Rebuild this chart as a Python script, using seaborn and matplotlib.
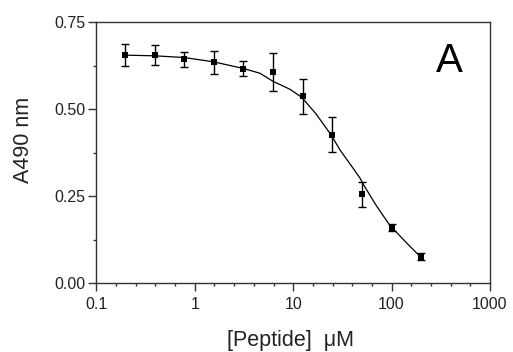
import numpy as np
import pandas as pd
import matplotlib
matplotlib.use("Agg")
import matplotlib.pyplot as plt
import matplotlib.ticker as mticker
import seaborn as sns

# Data points (two-fold dilution series)
conc = [0.195, 0.39, 0.78, 1.56, 3.125, 6.25, 12.5, 25, 50, 100, 200]
absorb = [0.655, 0.655, 0.643, 0.634, 0.616, 0.607, 0.537, 0.427, 0.255, 0.159, 0.076]
err = [0.031, 0.028, 0.021, 0.032, 0.021, 0.055, 0.050, 0.050, 0.035, 0.010, 0.010]

# Fitted curve
curve_x = [0.186, 0.39, 0.78, 1.53, 3.08, 4.59, 6.22, 9.27, 12.2, 17.0, 24.3, 29.9, 33.6, 40.0, 47.8, 50.9, 70.0, 95.8, 140.0, 203.0]
curve_y = [0.655, 0.653, 0.648, 0.636, 0.617, 0.603, 0.580, 0.557, 0.534, 0.487, 0.426, 0.383, 0.363, 0.333, 0.302, 0.287, 0.223, 0.167, 0.118, 0.072]

xticks = [0.1, 1, 10, 100, 1000]
xticklabels = ["0.1", "1", "10", "100", "1000"]
yticks = [0.00, 0.25, 0.50, 0.75]
yticklabels = ["0.00", "0.25", "0.50", "0.75"]

sns.set_style("ticks")
plt.rcParams['font.family'] = ['Liberation Sans', 'DejaVu Sans']

fig = plt.figure(figsize=(5.13, 3.52), dpi=100)
ax = fig.add_axes([0.188, 0.195, 0.767, 0.7425])

df_pts = pd.DataFrame({"conc": conc, "A": absorb})
df_curve = pd.DataFrame({"conc": curve_x, "A": curve_y})

sns.lineplot(data=df_curve, x="conc", y="A", ax=ax, color="black", lw=0.9, sort=False)
ax.errorbar(conc, absorb, yerr=err, fmt="none", ecolor="black", elinewidth=1.0, capsize=3, capthick=1.0)
sns.scatterplot(data=df_pts, x="conc", y="A", ax=ax, marker="s", s=14, color="black", edgecolor="black", linewidth=0, zorder=5)

ax.set_xscale("log")
ax.set_xlim(0.1, 1000)
ax.set_ylim(0, 0.75)
ax.set_xticks(xticks)
ax.set_xticklabels(xticklabels)
minor = [10 ** (k + 0.2 * i) for k in range(-1, 3) for i in range(1, 5)]
ax.xaxis.set_minor_locator(mticker.FixedLocator(minor))
ax.xaxis.set_minor_formatter(mticker.NullFormatter())
ax.set_yticks(yticks)
ax.set_yticklabels(yticklabels)
ax.set_yticks([0.125, 0.375, 0.625], minor=True)

for s in ax.spines.values():
    s.set_color("#333333")
    s.set_linewidth(1.0)
ax.tick_params(which="major", direction="out", length=5.5, width=1.0, color="#333333", labelsize=11.5, labelcolor="#222222")
ax.tick_params(which="minor", direction="out", length=2.5, width=1.0, color="#333333")
ax.tick_params(axis="x", which="major", pad=4)
ax.tick_params(axis="y", which="major", pad=2.5)

ax.set_xlabel("[Peptide]  μM", fontsize=15.5, color="#222222", va="center")
ax.xaxis.set_label_coords(0.493, -0.217)
ax.set_ylabel("A490 nm", fontsize=15.5, color="#222222", va="center")
ax.yaxis.set_label_coords(-0.185, 0.55)

ax.text(0.896, 0.810, "A", transform=ax.transAxes, fontsize=29, ha="center", va="baseline", color="black")

fig.savefig("out.png", dpi=100)
